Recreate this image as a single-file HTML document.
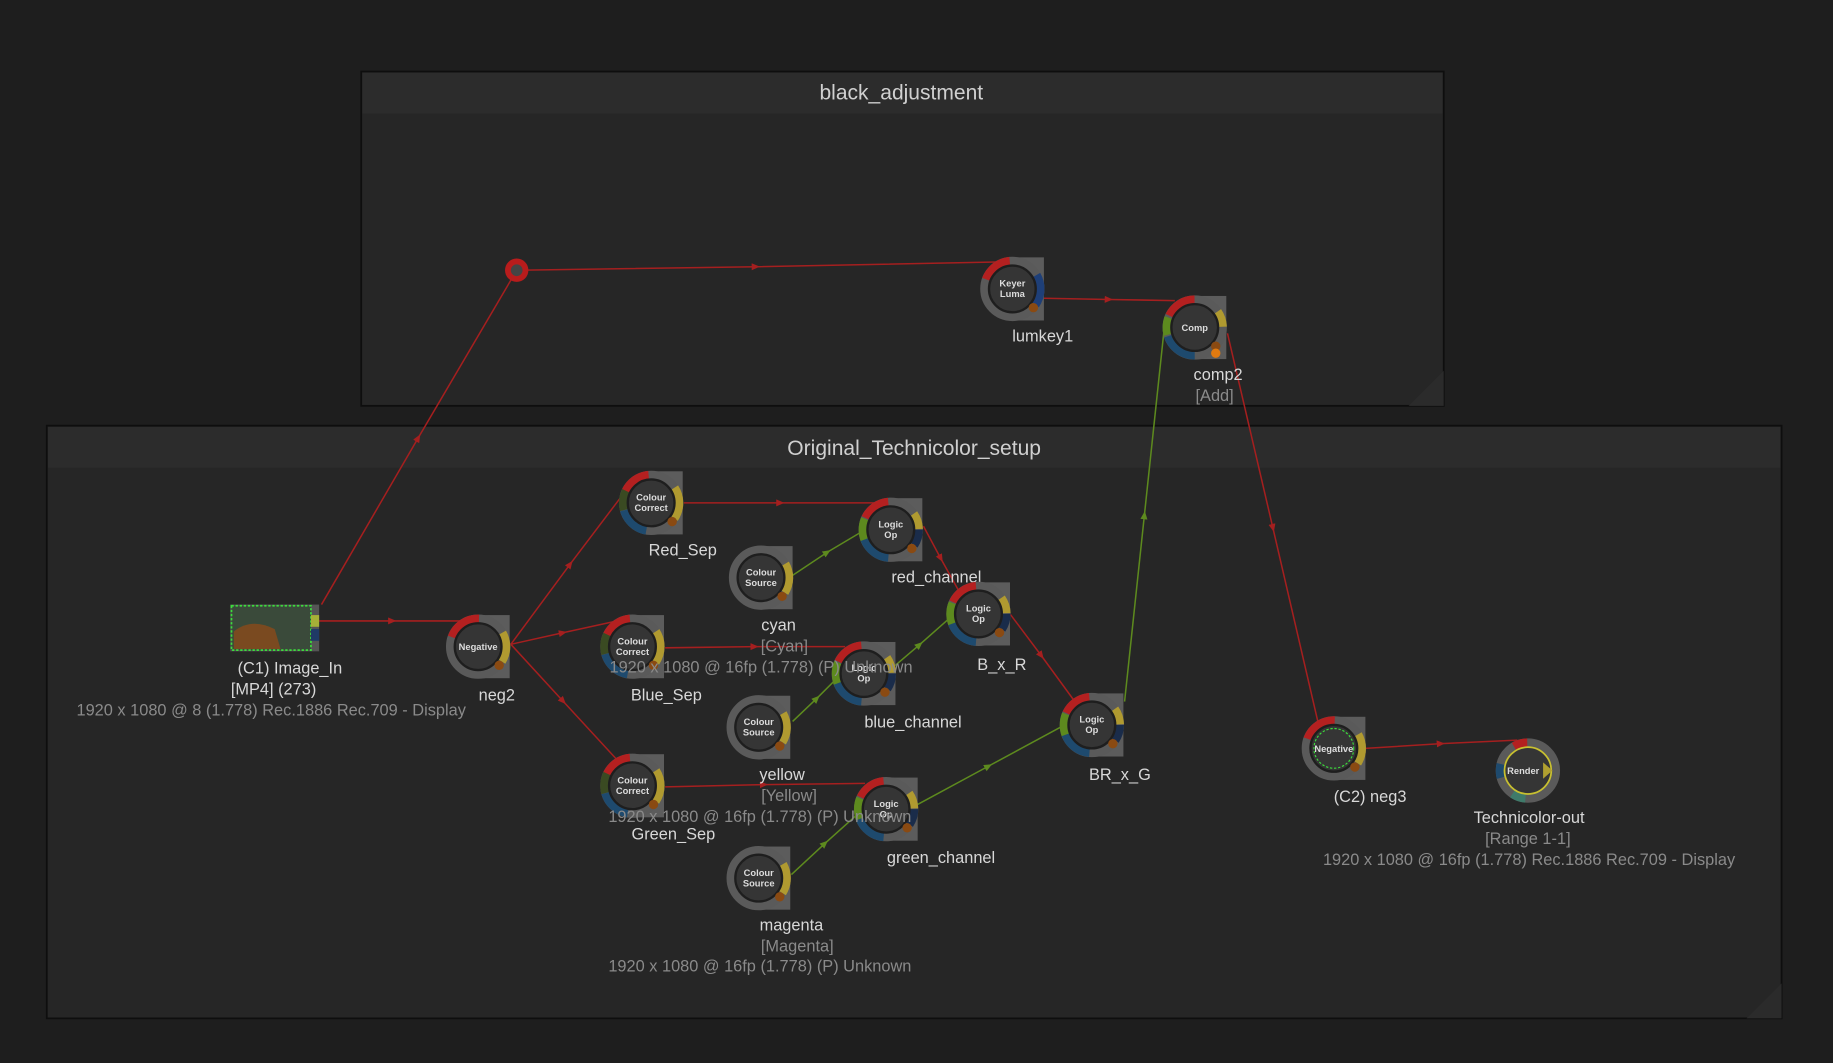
<!DOCTYPE html>
<html><head><meta charset="utf-8"><style>
html,body{margin:0;padding:0;background:#1e1e1e;}
svg{display:block}
text{font-family:"Liberation Sans",sans-serif;}
.lbl{fill:#d8d8d8;font-size:14px;text-anchor:middle}
.sub{fill:#8a8a8a;font-size:14px;text-anchor:middle}
.in{fill:#ddd;font-size:8px;text-anchor:middle;font-weight:bold}
.r{stroke:#a51f1f;stroke-width:1.3;fill:none;marker-mid:url(#ar)}
.g{stroke:#5d8a1e;stroke-width:1.3;fill:none;marker-mid:url(#ag)}
.a{fill:none;stroke-width:7}
</style></head><body>
<svg width="1833" height="1063" viewBox="0 0 1568 909" xmlns="http://www.w3.org/2000/svg">
<defs>
<marker id="ar" markerWidth="8" markerHeight="8" refX="4" refY="3" orient="auto" markerUnits="userSpaceOnUse"><path d="M0,0 L7,3 L0,6z" fill="#a51f1f"/></marker>
<marker id="ag" markerWidth="8" markerHeight="8" refX="4" refY="3" orient="auto" markerUnits="userSpaceOnUse"><path d="M0,0 L7,3 L0,6z" fill="#5d8a1e"/></marker>
<g id="base">
<rect x="0" y="-27" width="27" height="54" fill="#5c5c5c"/>
<circle r="24" class="a" stroke="#5a5a5a"/>
</g>
<g id="core">
<circle r="20" fill="#353535" stroke="#1e1e1e" stroke-width="2"/>
<circle cx="18" cy="16" r="4" fill="#8a4a12"/>
</g>
</defs>
<rect width="1568" height="909" fill="#1e1e1e"/>
<!-- groups -->
<rect x="309" y="61" width="926" height="286" fill="#262626" stroke="#0e0e0e" stroke-width="1.5"/>
<rect x="310" y="62" width="924" height="35" fill="#2c2c2c"/>
<text x="771" y="85" fill="#d0d0d0" font-size="18" text-anchor="middle">black_adjustment</text>
<rect x="40" y="364" width="1484" height="507" fill="#262626" stroke="#0e0e0e" stroke-width="1.5"/>
<rect x="41" y="365" width="1482" height="35" fill="#2c2c2c"/>
<text x="782" y="389" fill="#d0d0d0" font-size="18" text-anchor="middle">Original_Technicolor_setup</text>
<path d="M1205,347 L1235,317 L1235,347z" fill="#2b2b2b"/>
<path d="M1494,871 L1524,841 L1524,871z" fill="#2b2b2b"/>

<!-- edges -->
<path class="r" d="M275,517 L358,374 L442,231"/>
<path class="r" d="M442,231 L647,228 L852,224"/>
<path class="r" d="M893,255 L949,256 L1005,257"/>
<path class="r" d="M1050,285 L1089,452 L1128,620"/>
<path class="r" d="M272,531 L336,531 L400,531"/>
<path class="r" d="M437,551 L488,482 L535,420"/>
<path class="r" d="M437,551 L482,541 L528,531"/>
<path class="r" d="M437,551 L482,600 L528,650"/>
<path class="r" d="M585,430 L668,430 L752,430"/>
<path class="r" d="M569,554 L646,553 L723,553"/>
<path class="r" d="M569,673 L654,671 L740,670"/>
<path class="r" d="M790,450 L805,478 L820,505"/>
<path class="r" d="M864,525 L891,561 L918,598"/>
<path class="r" d="M1168,640 L1233,636 L1298,633"/>
<path class="g" d="M678,492 L708,472 L740,453"/>
<path class="g" d="M678,617 L699,597 L720,576"/>
<path class="g" d="M677,748 L706,721 L735,695"/>
<path class="g" d="M760,574 L787,551 L813,528"/>
<path class="g" d="M785,688 L846,655 L907,622"/>
<path class="g" d="M962,600 L979,440 L996,280"/>

<!-- red dot -->
<circle cx="442" cy="231" r="10" fill="#b81c1c"/><circle cx="442" cy="231" r="5" fill="#444"/>

<!-- Image_In -->
<rect x="197" y="517" width="76" height="40" fill="#555"/>
<rect x="198" y="518" width="68" height="38" fill="#3a4a3a" stroke="#3ddc3d" stroke-width="1.5" stroke-dasharray="2,1.5"/>
<path d="M200,540 Q215,528 235,538 L240,555 L200,555z" fill="#7a4a20"/>
<rect x="266" y="526" width="7" height="10" fill="#a6b038"/>
<rect x="266" y="538" width="7" height="10" fill="#1f3a66"/>
<text class="lbl" x="248" y="576">(C1) Image_In</text>
<text class="lbl" x="234" y="594">[MP4] (273)</text>
<text class="sub" x="232" y="612">1920 x 1080 @ 8 (1.778)  Rec.1886 Rec.709 - Display</text>

<!-- macro for arcs: r=24, 1deg=0.419 -->
<!-- Keyer Luma -->
<g transform="translate(866,247)"><use href="#base"/>
<circle r="24" class="a" stroke="#b42020" stroke-dasharray="27 200" transform="rotate(200)"/>
<circle r="24" class="a" stroke="#1e3f78" stroke-dasharray="27 200" transform="rotate(-30)"/>
<use href="#core"/><text class="in" y="-2">Keyer</text><text class="in" y="7">Luma</text></g>
<text class="lbl" x="892" y="292">lumkey1</text>

<!-- Comp -->
<g transform="translate(1022,280)"><use href="#base"/>
<circle r="24" class="a" stroke="#b42020" stroke-dasharray="27 200" transform="rotate(205)"/>
<circle r="24" class="a" stroke="#5d8a1e" stroke-dasharray="15 200" transform="rotate(165)"/>
<circle r="24" class="a" stroke="#1e4a6e" stroke-dasharray="30 200" transform="rotate(90)"/>
<circle r="24" class="a" stroke="#b09a30" stroke-dasharray="14 200" transform="rotate(-35)"/>
<use href="#core"/><circle cx="18" cy="22" r="4" fill="#e07a10"/><text class="in" y="3">Comp</text></g>
<text class="lbl" x="1042" y="325">comp2</text><text class="sub" x="1039" y="343">[Add]</text>

<!-- generic node macro content reused per node -->
<g transform="translate(557,430)"><use href="#base"/>
<circle r="24" class="a" stroke="#b42020" stroke-dasharray="25 200" transform="rotate(205)"/>
<circle r="24" class="a" stroke="#3a4a22" stroke-dasharray="17 200" transform="rotate(165)"/>
<circle r="24" class="a" stroke="#1e4a6e" stroke-dasharray="27 200" transform="rotate(100)"/>
<circle r="24" class="a" stroke="#b09a30" stroke-dasharray="28 200" transform="rotate(-33)"/>
<use href="#core"/><text class="in" y="-2">Colour</text><text class="in" y="7">Correct</text></g>
<text class="lbl" x="584" y="475">Red_Sep</text>

<g transform="translate(541,553)"><use href="#base"/>
<circle r="24" class="a" stroke="#b42020" stroke-dasharray="25 200" transform="rotate(205)"/>
<circle r="24" class="a" stroke="#3a4a22" stroke-dasharray="17 200" transform="rotate(165)"/>
<circle r="24" class="a" stroke="#1e4a6e" stroke-dasharray="27 200" transform="rotate(100)"/>
<circle r="24" class="a" stroke="#b09a30" stroke-dasharray="28 200" transform="rotate(-33)"/>
<use href="#core"/><text class="in" y="-2">Colour</text><text class="in" y="7">Correct</text></g>
<text class="lbl" x="570" y="599">Blue_Sep</text>

<g transform="translate(541,672)"><use href="#base"/>
<circle r="24" class="a" stroke="#b42020" stroke-dasharray="25 200" transform="rotate(205)"/>
<circle r="24" class="a" stroke="#3a4a22" stroke-dasharray="17 200" transform="rotate(165)"/>
<circle r="24" class="a" stroke="#1e4a6e" stroke-dasharray="27 200" transform="rotate(100)"/>
<circle r="24" class="a" stroke="#b09a30" stroke-dasharray="28 200" transform="rotate(-33)"/>
<use href="#core"/><text class="in" y="-2">Colour</text><text class="in" y="7">Correct</text></g>
<text class="lbl" x="576" y="718">Green_Sep</text>

<!-- Negative neg2 -->
<g transform="translate(409,553)"><use href="#base"/>
<circle r="24" class="a" stroke="#b42020" stroke-dasharray="30 200" transform="rotate(200)"/>
<circle r="24" class="a" stroke="#b09a30" stroke-dasharray="26 200" transform="rotate(-30)"/>
<use href="#core"/><text class="in" y="3">Negative</text></g>
<text class="lbl" x="425" y="599">neg2</text>

<!-- Colour sources -->
<g transform="translate(651,494)"><use href="#base"/>
<circle r="24" class="a" stroke="#b09a30" stroke-dasharray="26 200" transform="rotate(-30)"/>
<use href="#core"/><text class="in" y="-2">Colour</text><text class="in" y="7">Source</text></g>
<text class="lbl" x="666" y="539">cyan</text><text class="sub" x="671" y="557">[Cyan]</text>

<g transform="translate(649,622)"><use href="#base"/>
<circle r="24" class="a" stroke="#b09a30" stroke-dasharray="26 200" transform="rotate(-30)"/>
<use href="#core"/><text class="in" y="-2">Colour</text><text class="in" y="7">Source</text></g>
<text class="lbl" x="669" y="667">yellow</text><text class="sub" x="675" y="685">[Yellow]</text>

<g transform="translate(649,751)"><use href="#base"/>
<circle r="24" class="a" stroke="#b09a30" stroke-dasharray="26 200" transform="rotate(-30)"/>
<use href="#core"/><text class="in" y="-2">Colour</text><text class="in" y="7">Source</text></g>
<text class="lbl" x="677" y="796">magenta</text><text class="sub" x="682" y="814">[Magenta]</text>
<text class="sub" x="650" y="831">1920 x 1080 @ 16fp (1.778) (P) Unknown</text>

<!-- Logic Ops -->
<g transform="translate(762,453)"><use href="#base"/>
<circle r="24" class="a" stroke="#b42020" stroke-dasharray="25 200" transform="rotate(205)"/>
<circle r="24" class="a" stroke="#5d8a1e" stroke-dasharray="20 200" transform="rotate(155)"/>
<circle r="24" class="a" stroke="#1e4a6e" stroke-dasharray="27 200" transform="rotate(95)"/>
<circle r="24" class="a" stroke="#b09a30" stroke-dasharray="14 200" transform="rotate(-35)"/>
<circle r="24" class="a" stroke="#1a2c4a" stroke-dasharray="14 200" transform="rotate(0)"/>
<use href="#core"/><text class="in" y="-2">Logic</text><text class="in" y="7">Op</text></g>
<text class="lbl" x="801" y="498">red_channel</text>

<g transform="translate(837,525)"><use href="#base"/>
<circle r="24" class="a" stroke="#b42020" stroke-dasharray="25 200" transform="rotate(205)"/>
<circle r="24" class="a" stroke="#5d8a1e" stroke-dasharray="20 200" transform="rotate(155)"/>
<circle r="24" class="a" stroke="#1e4a6e" stroke-dasharray="27 200" transform="rotate(95)"/>
<circle r="24" class="a" stroke="#b09a30" stroke-dasharray="14 200" transform="rotate(-35)"/>
<circle r="24" class="a" stroke="#1a2c4a" stroke-dasharray="14 200" transform="rotate(0)"/>
<use href="#core"/><text class="in" y="-2">Logic</text><text class="in" y="7">Op</text></g>
<text class="lbl" x="857" y="573">B_x_R</text>

<g transform="translate(739,576)"><use href="#base"/>
<circle r="24" class="a" stroke="#b42020" stroke-dasharray="25 200" transform="rotate(205)"/>
<circle r="24" class="a" stroke="#5d8a1e" stroke-dasharray="20 200" transform="rotate(155)"/>
<circle r="24" class="a" stroke="#1e4a6e" stroke-dasharray="27 200" transform="rotate(95)"/>
<circle r="24" class="a" stroke="#b09a30" stroke-dasharray="14 200" transform="rotate(-35)"/>
<circle r="24" class="a" stroke="#1a2c4a" stroke-dasharray="14 200" transform="rotate(0)"/>
<use href="#core"/><text class="in" y="-2">Logic</text><text class="in" y="7">Op</text></g>
<text class="lbl" x="781" y="622">blue_channel</text>

<g transform="translate(934,620)"><use href="#base"/>
<circle r="24" class="a" stroke="#b42020" stroke-dasharray="25 200" transform="rotate(205)"/>
<circle r="24" class="a" stroke="#5d8a1e" stroke-dasharray="20 200" transform="rotate(155)"/>
<circle r="24" class="a" stroke="#1e4a6e" stroke-dasharray="27 200" transform="rotate(95)"/>
<circle r="24" class="a" stroke="#b09a30" stroke-dasharray="14 200" transform="rotate(-35)"/>
<circle r="24" class="a" stroke="#1a2c4a" stroke-dasharray="14 200" transform="rotate(0)"/>
<use href="#core"/><text class="in" y="-2">Logic</text><text class="in" y="7">Op</text></g>
<text class="lbl" x="958" y="667">BR_x_G</text>

<g transform="translate(758,692)"><use href="#base"/>
<circle r="24" class="a" stroke="#b42020" stroke-dasharray="25 200" transform="rotate(205)"/>
<circle r="24" class="a" stroke="#5d8a1e" stroke-dasharray="20 200" transform="rotate(155)"/>
<circle r="24" class="a" stroke="#1e4a6e" stroke-dasharray="27 200" transform="rotate(95)"/>
<circle r="24" class="a" stroke="#b09a30" stroke-dasharray="14 200" transform="rotate(-35)"/>
<circle r="24" class="a" stroke="#1a2c4a" stroke-dasharray="14 200" transform="rotate(0)"/>
<use href="#core"/><text class="in" y="-2">Logic</text><text class="in" y="7">Op</text></g>
<text class="lbl" x="805" y="738">green_channel</text>

<!-- overlapping info texts -->
<text class="sub" x="651" y="575">1920 x 1080 @ 16fp (1.778) (P) Unknown</text>
<text class="sub" x="650" y="703">1920 x 1080 @ 16fp (1.778) (P) Unknown</text>

<!-- neg3 -->
<g transform="translate(1141,640)"><use href="#base"/>
<circle r="24" class="a" stroke="#b42020" stroke-dasharray="30 200" transform="rotate(200)"/>
<circle r="24" class="a" stroke="#b09a30" stroke-dasharray="26 200" transform="rotate(-30)"/>
<use href="#core"/><circle r="17" fill="none" stroke="#3ddc3d" stroke-width="1" stroke-dasharray="2,1.5"/><text class="in" y="3">Negative</text></g>
<text class="lbl" x="1172" y="686">(C2) neg3</text>

<!-- Render -->
<g transform="translate(1307,659)">
<circle r="24" class="a" stroke="#5a5a5a"/>
<circle r="24" class="a" stroke="#b42020" stroke-dasharray="12 200" transform="rotate(240)"/>
<circle r="24" class="a" stroke="#1e4a6e" stroke-dasharray="12 200" transform="rotate(165)"/>
<circle r="24" class="a" stroke="#3f7a6a" stroke-dasharray="12 200" transform="rotate(95)"/>
<circle r="20" fill="#353535" stroke="#c8c030" stroke-width="1.5"/>
<path d="M13,-7 L21,0 L13,7z" fill="#b0a030"/>
<text class="in" x="-4" y="3">Render</text></g>
<text class="lbl" x="1308" y="704">Technicolor-out</text>
<text class="sub" x="1307" y="722">[Range 1-1]</text>
<text class="sub" x="1308" y="740">1920 x 1080 @ 16fp (1.778)  Rec.1886 Rec.709 - Display</text>
</svg>
</body></html>
